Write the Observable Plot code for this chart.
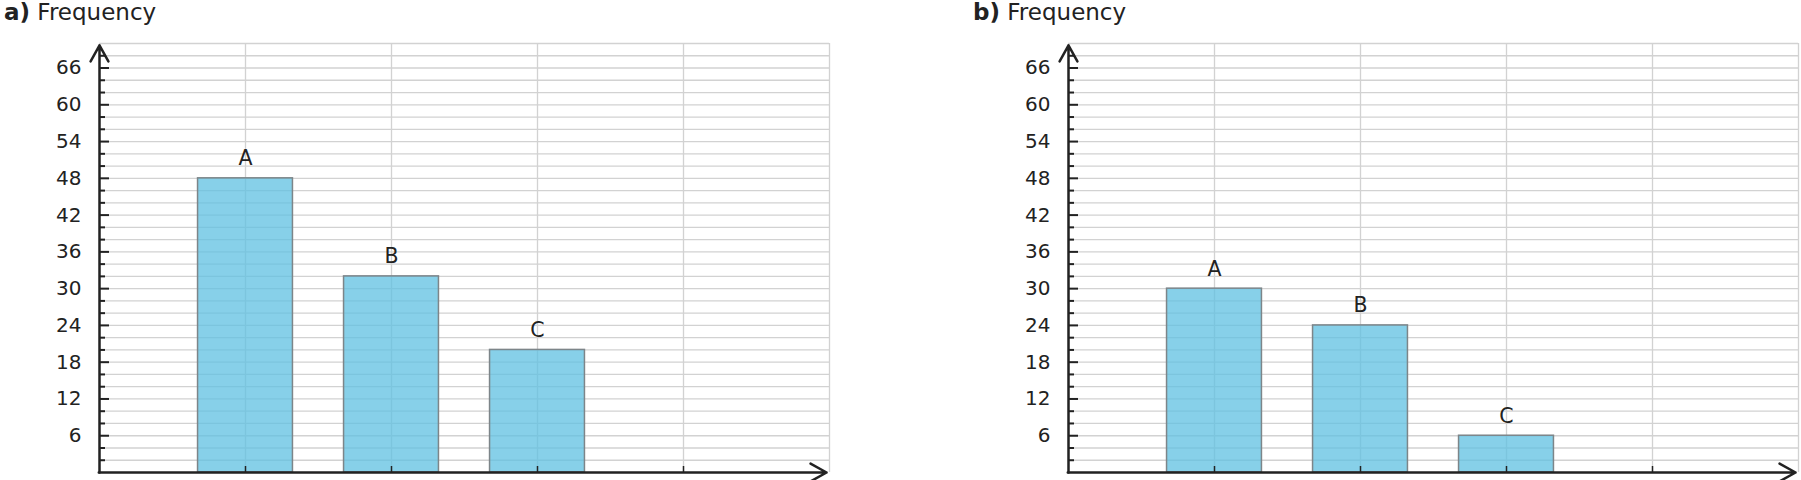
<!DOCTYPE html>
<html><head><meta charset="utf-8">
<script src="https://cdn.jsdelivr.net/npm/d3@7"></script>
<script src="https://cdn.jsdelivr.net/npm/@observablehq/plot@0.6"></script>
<style>
body{margin:0;background:#fff;font-family:"DejaVu Sans",sans-serif;color:#222}
#wrap{position:relative;width:1801px;height:480px;overflow:hidden;background:#fff}
.panel{position:absolute;top:0;height:480px}
.title{position:absolute;left:4px;top:1px;font-size:23px;line-height:1;white-space:nowrap;color:#222}
.title b{font-weight:bold}
.chart{position:absolute;left:0;top:30px}
</style></head><body><div id="wrap"></div>
<script>
// ---- data ----
const categories = ["A", "B", "C"];
const categoryPositions = [1, 2, 3];
const valuesA = [48, 32, 20];
const valuesB = [30, 24, 6];
const panelLabels = ["a)", "b)"];
const titleText = "Frequency";
const yMajorTicks = [6, 12, 18, 24, 30, 36, 42, 48, 54, 60, 66];
const yMinorTicks = [2, 4, 8, 10, 14, 16, 20, 22, 26, 28, 32, 34, 38, 40, 44, 46, 50, 52, 56, 58, 62, 64, 68];
const yGridLines = [2,4,6,8,10,12,14,16,18,20,22,24,26,28,30,32,34,36,38,40,42,44,46,48,50,52,54,56,58,60,62,64,66,68,70];
const xGridLines = [1, 2, 3, 4, 5];
const xTicks = [1, 2, 3, 4];
const xDomain = [0, 5];
const yDomain = [0, 70];

// ---- layout ----
const panels = [
  {label: panelLabels[0], values: valuesA, left: 0, width: 969},
  {label: panelLabels[1], values: valuesB, left: 969, width: 832}
];
const H = 450, mTop = 13, mBottom = 8, mLeft = 99, plotW = 730;
const plotH = H - mTop - mBottom;
const ink = "#222";
const barHalf = 0.325;

const wrap = document.getElementById("wrap");
for (const p of panels) {
  const data = categories.map((c, i) => ({cat: c, pos: categoryPositions[i], value: p.values[i]}));
  const div = document.createElement("div");
  div.className = "panel";
  div.style.left = p.left + "px";
  div.style.width = p.width + "px";
  const t = document.createElement("div");
  t.className = "title";
  const b = document.createElement("b");
  b.textContent = p.label;
  t.appendChild(b);
  t.appendChild(document.createTextNode(" " + titleText));
  div.appendChild(t);

  const chart = Plot.plot({
    width: p.width,
    height: H,
    marginTop: mTop,
    marginBottom: mBottom,
    marginLeft: mLeft,
    marginRight: p.width - mLeft - plotW,
    style: {fontFamily: "DejaVu Sans, sans-serif", background: "transparent", color: ink, overflow: "visible"},
    x: {domain: xDomain, axis: null},
    y: {domain: yDomain},
    marks: [
      Plot.ruleY(yGridLines, {y: d => d, x1: xDomain[0], x2: xDomain[1], stroke: "#d2d2d2", strokeWidth: 1.3}),
      Plot.ruleX(xGridLines, {x: d => d, y1: yDomain[0], y2: yDomain[1], stroke: "#d2d2d2", strokeWidth: 1.3}),
      Plot.rectY(data, {
        x1: d => d.pos - barHalf, x2: d => d.pos + barHalf, y1: 0, y2: "value",
        fill: "rgb(95,192,226)", fillOpacity: 0.75, stroke: "#7d8589", strokeWidth: 1.5
      }),
      Plot.text(data, {x: "pos", y: "value", text: "cat", dy: -13, lineAnchor: "bottom", fontSize: 20.5, fill: ink}),
      // y ticks pointing inward
      Plot.ruleY(yMajorTicks, {y: d => d, insetRight: plotW - 10, stroke: ink, strokeWidth: 2}),
      Plot.ruleY(yMinorTicks, {y: d => d, insetRight: plotW - 6, stroke: ink, strokeWidth: 2}),
      // x ticks pointing up
      Plot.ruleX(xTicks, {x: d => d, insetTop: plotH - 6, stroke: ink, strokeWidth: 1.5}),
      Plot.axisY(yMajorTicks, {tickSize: 0, tickPadding: 18, fontSize: 20, label: null, fill: ink}),
      // axes with arrows
      Plot.arrow([0], {x1: 0, y1: 0, x2: 0, y2: 69.7, stroke: ink, strokeWidth: 2.5, headLength: 11, headAngle: 58}),
      Plot.arrow([0], {x1: -0.005, y1: 0, x2: 4.98, y2: 0, stroke: ink, strokeWidth: 2.5, headLength: 11, headAngle: 58})
    ]
  });
  chart.classList.add("chart");
  div.appendChild(chart);
  wrap.appendChild(div);
}
</script>
</body></html>
